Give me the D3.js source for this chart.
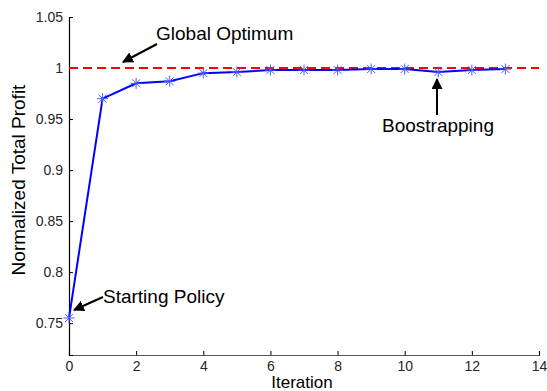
<!DOCTYPE html>
<html>
<head>
<meta charset="utf-8">
<script src="https://cdn.jsdelivr.net/npm/d3@7"></script>
<style>
    body { margin: 0; background: #fff; }
    svg { display: block; font-family: Arial, "Liberation Sans", sans-serif; }
</style>
</head>
<body>
<div id="chart"></div>
<script>
// data
const iterations = [0, 1, 2, 3, 4, 5, 6, 7, 8, 9, 10, 11, 12, 13];
const profit = [0.755, 0.970, 0.985, 0.987, 0.995, 0.996, 0.998, 0.998, 0.998, 0.999, 0.999, 0.996, 0.998, 0.999];
const optimum = 1;
const xTicks = [0, 2, 4, 6, 8, 10, 12, 14];
const yTicks = [0.75, 0.8, 0.85, 0.9, 0.95, 1, 1.05];

const width = 547, height = 391;
const margin = { top: 17, right: 8, bottom: 36, left: 69 };

const svg = d3.select("#chart").append("svg")
    .attr("width", width)
    .attr("height", height);

const x = d3.scaleLinear().domain([0, 14]).range([margin.left, width - margin.right]);
const y = d3.scaleLinear().domain([0.7188, 1.05]).range([height - margin.bottom, margin.top]);

// ---------------------------------------------------------------------------
// Axes (matlab style, ticks pointing inward)
// ---------------------------------------------------------------------------

const xAxis = svg.append("g")
    .attr("transform", `translate(0,${y.range()[0]})`)
    .call(d3.axisBottom(x).tickValues(xTicks).tickSize(-4).tickPadding(6).tickFormat(d3.format("d")));

const yAxis = svg.append("g")
    .attr("transform", `translate(${margin.left},0)`)
    .call(d3.axisLeft(y).tickValues(yTicks).tickSize(-4).tickPadding(6).tickFormat(d => String(d)));

[xAxis, yAxis].forEach(g => {
    g.select(".domain").attr("stroke", "#000").attr("stroke-width", 1.2);
    g.selectAll(".tick line").attr("stroke", "#000");
    g.selectAll("text").attr("fill", "#262626").attr("font-size", "14px")
        .attr("font-family", "Arial, 'Liberation Sans', sans-serif");
});
xAxis.select(".domain").attr("stroke", "#555");

svg.append("text")
    .attr("x", x(7) - 2)
    .attr("y", height - 3)
    .attr("text-anchor", "middle")
    .attr("font-size", "17px")
    .text("Iteration");

svg.append("text")
    .attr("transform", `translate(25,180) rotate(-90)`)
    .attr("text-anchor", "middle")
    .attr("font-size", "19px")
    .text("Normalized Total Profit");

// ---------------------------------------------------------------------------
// Global optimum reference line
// ---------------------------------------------------------------------------

svg.append("line")
    .attr("x1", x(0)).attr("x2", x(14))
    .attr("y1", y(optimum)).attr("y2", y(optimum))
    .attr("stroke", "#ff0000")
    .attr("stroke-width", 2)
    .attr("stroke-dasharray", "9,5");

// ---------------------------------------------------------------------------
// Profit curve with asterisk markers
// ---------------------------------------------------------------------------

const pts = iterations.map((it, i) => ({ it, v: profit[i] }));

svg.append("path")
    .datum(pts)
    .attr("fill", "none")
    .attr("stroke", "#0000ff")
    .attr("stroke-width", 2)
    .attr("d", d3.line().x(d => x(d.it)).y(d => y(d.v)));

const r = 5.5;
const star = svg.append("g").selectAll("g")
    .data(pts)
    .join("g")
    .attr("transform", d => `translate(${x(d.it)},${y(d.v)})`)
    .attr("stroke", "#4d5cff")
    .attr("stroke-width", 1);
star.append("line").attr("x1", -r).attr("x2", r);
star.append("line").attr("y1", -r).attr("y2", r);
star.append("line").attr("x1", -r * 0.72).attr("y1", -r * 0.72).attr("x2", r * 0.72).attr("y2", r * 0.72);
star.append("line").attr("x1", -r * 0.72).attr("y1", r * 0.72).attr("x2", r * 0.72).attr("y2", -r * 0.72);

// ---------------------------------------------------------------------------
// Annotations
// ---------------------------------------------------------------------------

svg.append("defs").append("marker")
    .attr("id", "head")
    .attr("viewBox", "0 0 10 10")
    .attr("refX", 9).attr("refY", 5)
    .attr("markerWidth", 5.5).attr("markerHeight", 5.5)
    .attr("markerUnits", "strokeWidth")
    .attr("orient", "auto")
    .append("path")
    .attr("d", "M0,0 L10,5 L0,10 Z")
    .attr("fill", "#000");

function note(label, tx, ty, x1, y1, x2, y2) {
    svg.append("line")
        .attr("x1", x1).attr("y1", y1)
        .attr("x2", x2).attr("y2", y2)
        .attr("stroke", "#000")
        .attr("stroke-width", 2)
        .attr("marker-end", "url(#head)");
    svg.append("text")
        .attr("x", tx).attr("y", ty)
        .attr("font-size", "19px")
        .text(label);
}

note("Global Optimum", 156, 40, 157, 44, 123, 62);
note("Starting Policy", 103, 303, 103, 297, 74, 310);
note("Boostrapping", 382, 132, 437, 115, 437, 79);
</script>
</body>
</html>
